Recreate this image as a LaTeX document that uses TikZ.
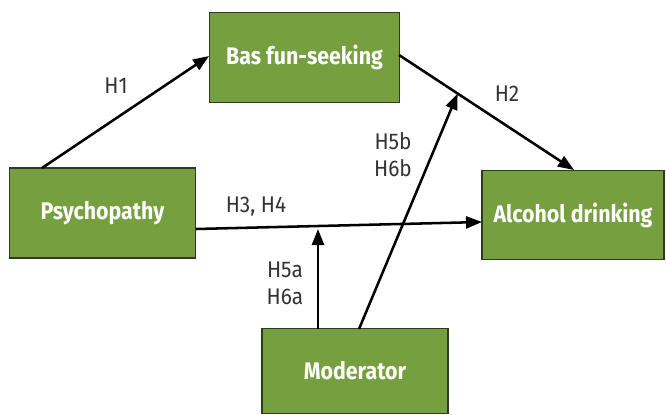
\documentclass[tikz,border=0pt]{standalone}
\usepackage{fontspec}
\setmainfont{Fira Sans}[FakeStretch=0.92]
\newfontfamily\boxfont{Fira Sans}[FakeStretch=0.89]
\usetikzlibrary{arrows.meta,calc}
\definecolor{boxgreen}{HTML}{76A040}
\definecolor{boxedge}{HTML}{2F3A22}
\definecolor{labgrey}{HTML}{333333}
\begin{document}
\begin{tikzpicture}[x=0.75pt,y=-0.75pt,
  greenbox/.style={draw=boxedge,line width=0.9pt,fill=boxgreen,text=white,
    font=\boxfont\bfseries\fontsize{18}{20}\selectfont},
  conn/.style={line width=1.9pt,-{Triangle[length=12pt,width=9pt]}},
  hlab/.style={text=labgrey,font=\fontsize{17}{20}\selectfont,inner sep=0pt}]
\useasboundingbox (0,0) rectangle (666,414);
\fill[white] (0,0) rectangle (666,414);
% boxes
\node[greenbox,minimum width=142.5pt,minimum height=67pt] (bas) at (304.5,57.5) {Bas fun-seeking};
\node[greenbox,minimum width=140pt,minimum height=67.5pt] (psy) at (102.5,213) {Psychopathy};
\node[greenbox,minimum width=136.5pt,minimum height=66.5pt] (alc) at (573,215) {Alcohol drinking};
\node[greenbox,minimum width=139.5pt,minimum height=64pt] (mod) at (355,371) {Moderator};
% anchor points
\coordinate (psytop) at (42,168);
\coordinate (basleft) at (209,56);
\coordinate (basright) at (399,55);
\coordinate (alctop) at (574,170);
\coordinate (psyright) at (196,229);
\coordinate (alcleft) at (482,222);
\coordinate (h2pt) at ($(basright)!0.335!(alctop)$);
\coordinate (modA) at (318,329);
\coordinate (h3pt) at (318,229);
\coordinate (modB) at (359,329);
% connectors
\draw[conn] (psytop) -- (basleft);
\draw[conn] (basright) -- (alctop);
\draw[conn] (psyright) -- (alcleft);
\draw[conn] (modA) -- (h3pt);
\draw[conn] (modB) -- (h2pt);
% labels
\node[hlab] (l1) at (116,86) {H1};
\node[hlab] (l2) at (507,94) {H2};
\node[hlab] (l34) at (256,207) {H3, H4};
\node[hlab] (l5a) at (285,270) {H5a};
\node[hlab] (l6a) at (285,297) {H6a};
\node[hlab] (l5b) at (393,141) {H5b};
\node[hlab] (l6b) at (393,168) {H6b};
\end{tikzpicture}
\end{document}
